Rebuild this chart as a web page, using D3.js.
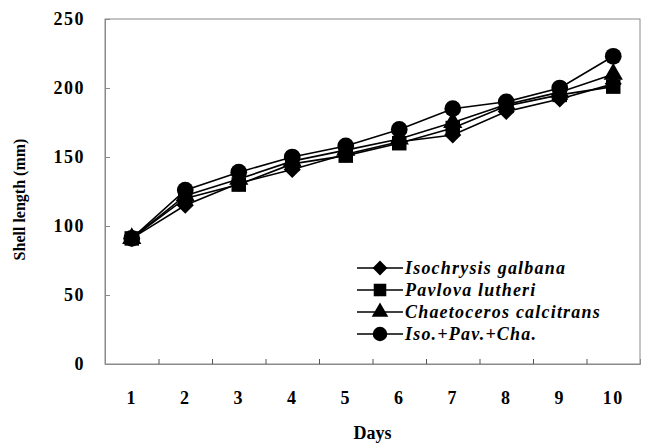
<!DOCTYPE html>
<html lang="en">
<head>
    <meta charset="UTF-8">
    <title>shell length</title>
    <script src="https://d3js.org/d3.v7.min.js"></script>
    <style>
    html, body { margin: 0; padding: 0; background: #fff; }
    .lbl { font-family: "Liberation Serif", "DejaVu Serif", serif; font-weight: bold; }
    </style>
</head>
<body>
<div id="chart"></div>
<script>

    // chart values
    var days = [1, 2, 3, 4, 5, 6, 7, 8, 9, 10];
    var isochrysis = [91, 115, 131, 141, 152, 161, 166, 183, 192, 203];
    var pavlova    = [91, 120, 130, 145, 151, 160, 171, 187, 195, 201];
    var chaeto     = [91, 122, 134, 147, 155, 163, 175, 188, 197, 210];
    var mixed      = [91, 126, 139, 150, 158, 170, 185, 190, 200, 223];
    var seriesNames = ["Isochrysis galbana", "Pavlova lutheri", "Chaetoceros calcitrans", "Iso.+Pav.+Cha."];
    var yTicks = [0, 50, 100, 150, 200, 250];

    var margin = {top: 19, right: 6, bottom: 79, left: 105},
        width = 646 - margin.left - margin.right,
        height = 443 - margin.top - margin.bottom;

    // wide diamond = square turned 45deg
    var diamond = {
        draw: function(ctx, size) {
            var r = Math.sqrt(size) * 0.62;
            ctx.moveTo(0, -r);
            ctx.lineTo(r, 0);
            ctx.lineTo(0, r);
            ctx.lineTo(-r, 0);
            ctx.closePath();
        }
    };

    var series = [
        {name: seriesNames[0], values: isochrysis, sym: diamond, size: 190},
        {name: seriesNames[1], values: pavlova, sym: d3.symbolSquare, size: 210},
        {name: seriesNames[2], values: chaeto, sym: d3.symbolTriangle, size: 160},
        {name: seriesNames[3], values: mixed, sym: d3.symbolCircle, size: 220}
    ];

    var x = d3.scaleBand().domain(days).range([0, width]);
    var y = d3.scaleLinear().domain([0, 250]).range([height, 0]);

    var svg = d3.select("#chart").append("svg")
        .attr("width", 646)
        .attr("height", 443)
        .append("g")
        .attr("transform", "translate(" + margin.left + "," + margin.top + ")");

    // frame
    svg.append("rect")
        .attr("width", width).attr("height", height)
        .attr("fill", "none").attr("stroke", "#8a8a8a").attr("stroke-width", 1);

    // y axis
    var yAxis = svg.append("g")
        .call(d3.axisRight(y).tickValues(yTicks).tickSize(5).tickFormat(""));
    yAxis.select(".domain").attr("stroke", "#8a8a8a");
    yAxis.selectAll(".tick line").attr("stroke", "#8a8a8a");
    svg.selectAll(".ylab").data(yTicks).enter().append("text")
        .attr("class", "lbl ylab")
        .attr("x", -20).attr("y", function(d) { return y(d); })
        .attr("dy", "0.35em")
        .attr("text-anchor", "end")
        .attr("font-size", 18)
        .attr("letter-spacing", 1.5)
        .text(function(d) { return d; });

    // x axis, ticks between categories
    var xAxis = svg.append("g")
        .attr("transform", "translate(0," + height + ")")
        .call(d3.axisTop(d3.scaleLinear().domain([0, 10]).range([0, width]))
            .tickValues([1, 2, 3, 4, 5, 6, 7, 8, 9]).tickSize(5).tickFormat(""));
    xAxis.select(".domain").attr("stroke", "#8a8a8a");
    xAxis.selectAll(".tick line").attr("stroke", "#555");
    svg.selectAll(".xlab").data(days).enter().append("text")
        .attr("class", "lbl xlab")
        .attr("x", function(d) { return x(d) + x.bandwidth() / 2; })
        .attr("y", height + 40)
        .attr("text-anchor", "middle")
        .attr("font-size", 18)
        .attr("letter-spacing", 1.5)
        .text(function(d) { return d; });

    // axis titles
    svg.append("text")
        .attr("class", "lbl")
        .attr("transform", "translate(-80," + (height / 2 + 8) + ") rotate(-90)")
        .attr("text-anchor", "middle")
        .attr("font-size", 16)
        .text("Shell length (mm)");

    svg.append("text")
        .attr("class", "lbl")
        .attr("x", width / 2 + 0)
        .attr("y", height + 75)
        .attr("text-anchor", "middle")
        .attr("font-size", 18)
        .text("Days");

    var line = d3.line()
        .x(function(d, i) { return x(days[i]) + x.bandwidth() / 2; })
        .y(function(d) { return y(d); });

    series.forEach(function(s) {
        svg.append("path")
            .datum(s.values)
            .attr("fill", "none")
            .attr("stroke", "#000")
            .attr("stroke-width", 1.6)
            .attr("d", line);
    });

    series.forEach(function(s) {
        svg.selectAll(null).data(s.values).enter().append("path")
            .attr("transform", function(d, i) {
                return "translate(" + (x(days[i]) + x.bandwidth() / 2) + "," + y(d) + ")";
            })
            .attr("d", d3.symbol().type(s.sym).size(s.size))
            .attr("fill", "#000");
    });

    // legend
    var legend = svg.append("g").attr("transform", "translate(252,249)");
    series.forEach(function(s, i) {
        var g = legend.append("g").attr("transform", "translate(0," + (i * 22) + ")");
        g.append("line").attr("x1", 0).attr("x2", 46)
            .attr("stroke", "#000").attr("stroke-width", 1.6);
        g.append("path")
            .attr("transform", "translate(23,0)")
            .attr("d", d3.symbol().type(s.sym).size(s.size * 0.75))
            .attr("fill", "#000");
        g.append("text")
            .attr("class", "lbl")
            .attr("x", 48).attr("dy", "0.35em")
            .attr("font-size", 18)
            .attr("font-style", "italic")
            .attr("letter-spacing", 1.2)
            .text(s.name);
    });

</script>
</body>
</html>
